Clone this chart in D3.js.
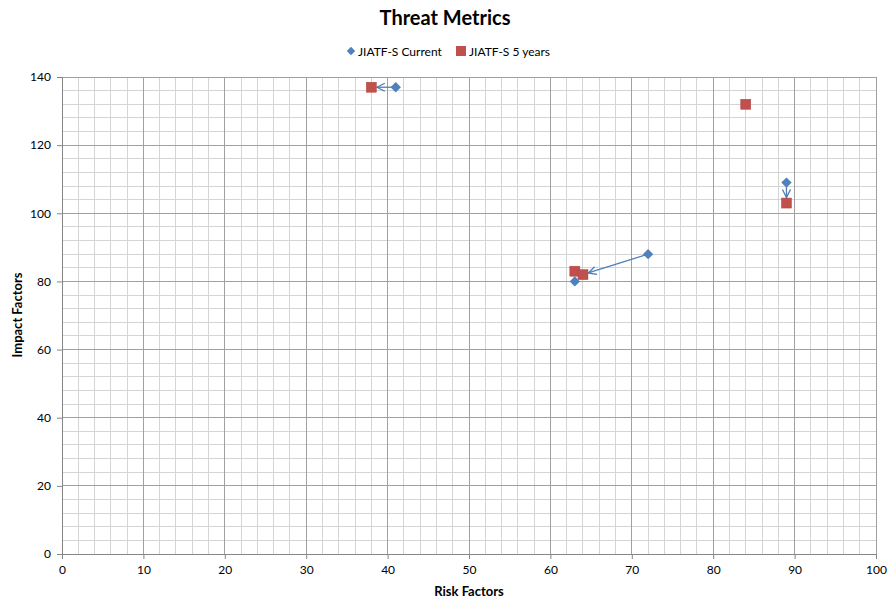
<!DOCTYPE html>
<html><head><meta charset="utf-8">
<script src="https://cdn.jsdelivr.net/npm/d3@7"></script>
<style>body{margin:0;background:#fff}svg{display:block}text{font-family:Lato,"Open Sans",sans-serif;fill:#000}</style>
</head><body><svg id="c" width="889" height="598"></svg>
<script>
const title = "Threat Metrics";
const seriesNames = ["JIATF-S Current", "JIATF-S 5 years"];
const currentX = [41, 72, 63, 89];
const currentY = [137, 88, 80, 109];
const futureX = [38, 63, 64, 84, 89];
const futureY = [137, 83, 82, 132, 103];
// arrows: from current point index -> future point index
const arrowFrom = [0, 1, 3];
const arrowTo = [0, 2, 4];
const xTicks = [0,10,20,30,40,50,60,70,80,90,100];
const yTicks = [0,20,40,60,80,100,120,140];

const svg = d3.select("#c");
const L=62,R=876,T=77,B=554;
const x = d3.scaleLinear().domain([0,100]).range([L,R]);
const y = d3.scaleLinear().domain([0,140]).range([B,T]);

const defs = svg.append("defs");
defs.append("marker").attr("id","ah").attr("viewBox","0 0 10 10").attr("refX",9).attr("refY",5)
  .attr("markerWidth",10).attr("markerHeight",10).attr("markerUnits","userSpaceOnUse").attr("orient","auto")
  .append("path").attr("d","M1,1 L9,5 L1,9").attr("fill","none").attr("stroke","#4a7ebb").attr("stroke-width",1.3);

const g = svg.append("g");
// minor grid
g.selectAll(".mx").data(d3.range(2,100,2).filter(v=>v%10)).join("line")
  .attr("x1",d=>x(d)).attr("x2",d=>x(d)).attr("y1",T).attr("y2",B).attr("stroke","#d4d4d4").attr("stroke-width",1).attr("shape-rendering","crispEdges");
g.selectAll(".my").data(d3.range(4,140,4).filter(v=>v%20)).join("line")
  .attr("y1",d=>y(d)).attr("y2",d=>y(d)).attr("x1",L).attr("x2",R).attr("stroke","#d4d4d4").attr("stroke-width",1).attr("shape-rendering","crispEdges");
// major grid
g.selectAll(".Mx").data(xTicks.slice(1)).join("line")
  .attr("x1",d=>x(d)).attr("x2",d=>x(d)).attr("y1",T).attr("y2",B).attr("stroke","#a0a0a0").attr("stroke-width",1).attr("shape-rendering","crispEdges");
g.selectAll(".My").data(yTicks.slice(1)).join("line")
  .attr("y1",d=>y(d)).attr("y2",d=>y(d)).attr("x1",L).attr("x2",R).attr("stroke","#a0a0a0").attr("stroke-width",1).attr("shape-rendering","crispEdges");

// axes
const xa = svg.append("g").attr("transform",`translate(0,${B})`)
  .call(d3.axisBottom(x).tickValues(xTicks).tickSize(5).tickPadding(6));
const ya = svg.append("g").attr("transform",`translate(${L},0)`)
  .call(d3.axisLeft(y).tickValues(yTicks).tickSize(5).tickPadding(6));
[xa,ya].forEach(a=>{
  a.select(".domain").attr("stroke","#868686");
  a.selectAll(".tick line").attr("stroke","#868686");
  a.selectAll("text").attr("font-size",12).attr("font-family","Lato,'Open Sans',sans-serif").attr("fill","#000");
});

// arrows
const sq=10;
svg.append("g").selectAll("line").data(arrowFrom.map((f,i)=>({f,t:arrowTo[i]}))).join("line")
  .each(function(d){
    const x1=x(currentX[d.f]), y1=y(currentY[d.f]);
    const x2=x(futureX[d.t]), y2=y(futureY[d.t]);
    const dx=x2-x1, dy=y2-y1, len=Math.hypot(dx,dy);
    const cut = 5.5;
    d3.select(this).attr("x1",x1).attr("y1",y1)
      .attr("x2",x2-dx/len*cut).attr("y2",y2-dy/len*cut);
  })
  .attr("stroke","#4a7ebb").attr("stroke-width",1.3).attr("marker-end","url(#ah)");

// future squares
svg.append("g").selectAll("rect").data(futureX.map((v,i)=>[v,futureY[i]])).join("rect")
  .attr("x",d=>x(d[0])-sq/2).attr("y",d=>y(d[1])-sq/2).attr("width",sq).attr("height",sq)
  .attr("fill","#c0504d").attr("stroke","#b5443f").attr("stroke-width",0.5);
// current diamonds
const diamond = d3.symbol().type(d3.symbolDiamond2).size(68);
svg.append("g").selectAll("path").data(currentX.map((v,i)=>[v,currentY[i]])).join("path")
  .attr("d",diamond).attr("transform",d=>`translate(${x(d[0])},${y(d[1])})`)
  .attr("fill","#4f81bd");

// title
svg.append("text").attr("x",445).attr("y",25).attr("text-anchor","middle").attr("font-size",20).attr("font-weight","bold").text(title);
// axis titles
svg.append("text").attr("x",469).attr("y",596).attr("text-anchor","middle").attr("font-size",13).attr("font-weight","bold").text("Risk Factors");
svg.append("text").attr("transform","translate(22,315) rotate(-90)").attr("text-anchor","middle").attr("font-size",13).attr("font-weight","bold").text("Impact Factors");

// legend
const lg = svg.append("g");
lg.append("path").attr("d",d3.symbol().type(d3.symbolDiamond2).size(45)).attr("transform","translate(351,51)").attr("fill","#4f81bd");
lg.append("text").attr("x",358).attr("y",55.5).attr("font-size",12).text(seriesNames[0]);
lg.append("rect").attr("x",456).attr("y",46).attr("width",10).attr("height",10).attr("fill","#c0504d");
lg.append("text").attr("x",469).attr("y",55.5).attr("font-size",12).text(seriesNames[1]);
</script></body></html>
